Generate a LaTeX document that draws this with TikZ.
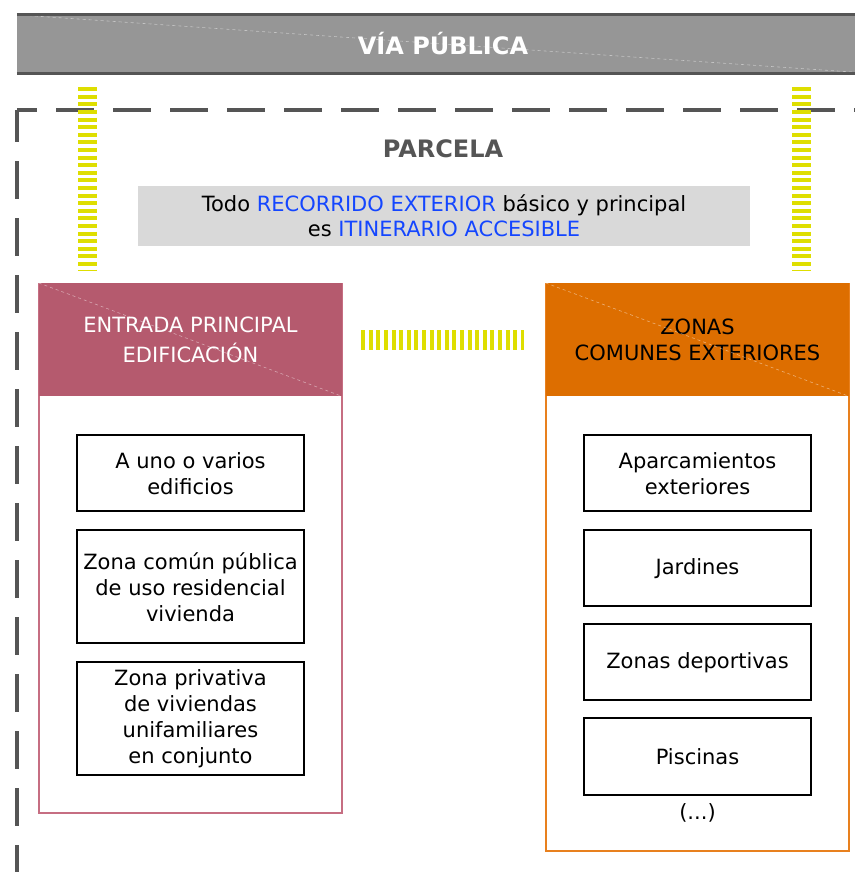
\documentclass[tikz,border=0pt]{standalone}
\usepackage{fontspec}
\setmainfont{DejaVu Sans}
\usetikzlibrary{positioning}
\definecolor{viaGray}{RGB}{150,150,150}
\definecolor{viaDark}{RGB}{85,85,85}
\definecolor{parcelaGray}{RGB}{85,85,85}
\definecolor{notaGray}{RGB}{217,217,217}
\definecolor{notaBlue}{RGB}{20,70,255}
\definecolor{pasoYellow}{RGB}{222,222,0}
\definecolor{entradaRed}{RGB}{181,90,110}
\definecolor{entradaLine}{RGB}{198,110,130}
\definecolor{zonasOrange}{RGB}{221,110,0}
\definecolor{zonasLine}{RGB}{232,128,30}

\begin{document}
\begin{tikzpicture}[x=1pt,y=-1pt,
  zonabox/.style={
    draw=black,
    line width=2pt,
    minimum width=227pt,
    minimum height=76pt,
    inner sep=0pt,
    align=center,
    font=\fontsize{21}{26}\selectfont
  },
  cabecera/.style={
    minimum width=303pt,
    minimum height=113pt,
    inner sep=0pt,
    align=center,
    font=\fontsize{21}{30}\selectfont
  },
  columna/.style={line width=2pt,minimum width=303pt,inner sep=0pt},
  pasoV/.style={pasoYellow,line width=19pt,dash pattern=on 4pt off 3.6pt},
  pasoH/.style={pasoYellow,line width=20pt,dash pattern=on 4pt off 3.6pt},
  cruce/.style={white,opacity=0.45,line width=0.6pt,dashed}
]
  \useasboundingbox (0,0) rectangle (854,872);

  % via publica
  \node[fill=viaGray,minimum width=852pt,minimum height=58pt,inner sep=0pt,
    text=white,font=\fontsize{24}{28}\selectfont\bfseries] (via) at (443,44) {VÍA PÚBLICA};
  \draw[cruce] (via.north west) -- (via.south east);
  \draw[viaDark,line width=3pt] (via.north west) -- (via.north east);
  \draw[viaDark,line width=3pt] (via.south west) -- (via.south east);

  % parcela
  \draw[parcelaGray,line width=4pt,dash pattern=on 38pt off 19pt,dash phase=18pt] (17,110) -- (870,110);
  \draw[parcelaGray,line width=4pt,dash pattern=on 38pt off 19pt,dash phase=6pt] (17,110) -- (17,890);
  \node[text=parcelaGray,font=\fontsize{24}{28}\selectfont\bfseries] (parcela) at (443,149) {PARCELA};
  \node[fill=notaGray,minimum width=612pt,minimum height=60pt,inner sep=0pt,align=center,
    font=\fontsize{21}{25}\selectfont] (nota) at (444,216)
    {Todo \textcolor{notaBlue}{RECORRIDO EXTERIOR} básico y principal\\
     es \textcolor{notaBlue}{ITINERARIO ACCESIBLE}};

  % entrada principal
  \node[columna,draw=entradaLine,minimum height=529pt] (entradaCol) at (190.5,548.5) {};
  \node[cabecera,fill=entradaRed,text=white,below=0pt of entradaCol.north] (entrada)
    {ENTRADA PRINCIPAL\\EDIFICACIÓN};
  \draw[cruce] (entrada.north west) -- (entrada.south east);
  \node[zonabox,below=38pt of entrada] (edificios) {A uno o varios\\edificios};
  \node[zonabox,minimum height=113pt,below=17pt of edificios] (residencial)
    {Zona común pública\\de uso residencial\\vivienda};
  \node[zonabox,minimum height=113pt,below=17pt of residencial] (unifamiliares)
    {Zona privativa\\de viviendas\\unifamiliares\\en conjunto};

  % zonas comunes
  \node[columna,draw=zonasLine,minimum height=567pt] (zonasCol) at (697.5,567.5) {};
  \node[cabecera,fill=zonasOrange,text=black,font=\fontsize{21}{26}\selectfont,
    below=0pt of zonasCol.north] (zonas) {ZONAS\\COMUNES EXTERIORES};
  \draw[cruce] (zonas.north west) -- (zonas.south east);
  \node[zonabox,below=38pt of zonas] (aparcamientos) {Aparcamientos\\exteriores};
  \node[zonabox,below=17pt of aparcamientos] (jardines) {Jardines};
  \node[zonabox,below=16pt of jardines] (deportivas) {Zonas deportivas};
  \node[zonabox,minimum height=77pt,below=16pt of deportivas] (piscinas) {Piscinas};
  \node[font=\fontsize{21}{25}\selectfont] (etc) at ([yshift=-17pt]piscinas.south) {(...)};

  % pasos
  \coordinate (pasoIzq) at (87,0);
  \coordinate (pasoDer) at (801.5,0);
  \draw[pasoV,shorten <=14pt,shorten >=12pt] (via.south -| pasoIzq) -- (entrada.north -| pasoIzq);
  \draw[pasoV,shorten <=14pt,shorten >=12pt] (via.south -| pasoDer) -- (zonas.north -| pasoDer);
  \draw[pasoH,shorten <=19pt,shorten >=21.5pt] (entrada) -- (zonas);
\end{tikzpicture}
\end{document}
